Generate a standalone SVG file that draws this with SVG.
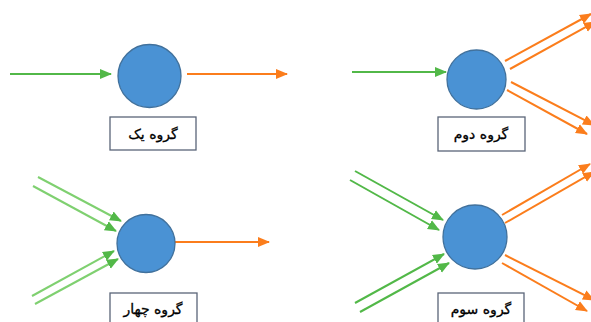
<svg xmlns="http://www.w3.org/2000/svg" width="591" height="322" viewBox="0 0 591 322">
  <style>
    .node { fill: #4a92d4; stroke: #41719c; stroke-width: 1.3; }
    .label { fill: #ffffff; stroke: #5a6578; stroke-width: 1.3; }
    .label-text { font-family: "DejaVu Sans", "Noto Sans", sans-serif; font-size: 14px; font-weight: normal; fill: #000000; stroke: #000000; stroke-width: 0.3; text-anchor: middle; }
    .in { stroke: #52b848; stroke-width: 2; fill: none; marker-end: url(#arrow-green); }
    .in-light { stroke: #7fd070; stroke-width: 2; fill: none; marker-end: url(#arrow-green); }
    .out { stroke: #fb7d1c; stroke-width: 2; fill: none; marker-end: url(#arrow-orange); }
  </style>
  <defs>
    <marker id="arrow-green" markerUnits="userSpaceOnUse" markerWidth="13" markerHeight="11" refX="11" refY="5.5" orient="auto">
      <path d="M0,0.5 L12,5.5 L0,10.5 z" fill="#52b848"/>
    </marker>
    <marker id="arrow-orange" markerUnits="userSpaceOnUse" markerWidth="13" markerHeight="11" refX="11" refY="5.5" orient="auto">
      <path d="M0,0.5 L12,5.5 L0,10.5 z" fill="#fb7d1c"/>
    </marker>
  </defs>

  <!-- connectors -->
  <g id="connectors">
    <!-- group one -->
    <line class="in" x1="10" y1="74" x2="111" y2="74"/>
    <line class="out" x1="187" y1="74" x2="287" y2="74"/>
    <!-- group two -->
    <line class="in" x1="352" y1="72" x2="446" y2="72"/>
    <line class="out" x1="505" y1="61" x2="591" y2="14"/>
    <line class="out" x1="510" y1="69" x2="595" y2="22"/>
    <line class="out" x1="511" y1="82" x2="594" y2="125"/>
    <line class="out" x1="507" y1="90" x2="587" y2="134"/>
    <!-- group four -->
    <line class="in-light" x1="38" y1="177" x2="121" y2="221"/>
    <line class="in-light" x1="33" y1="186" x2="116" y2="231"/>
    <line class="in-light" x1="32" y1="296" x2="114" y2="251"/>
    <line class="in-light" x1="35" y1="304" x2="118" y2="259"/>
    <line class="out" x1="175" y1="242" x2="269" y2="242"/>
    <!-- group three -->
    <line class="in" x1="355" y1="171" x2="443" y2="220"/>
    <line class="in" x1="350" y1="180" x2="439" y2="230"/>
    <line class="in" x1="355" y1="303" x2="444" y2="254"/>
    <line class="in" x1="360" y1="312" x2="449" y2="263"/>
    <line class="out" x1="502" y1="215" x2="590" y2="164"/>
    <line class="out" x1="505" y1="223" x2="594" y2="172"/>
    <line class="out" x1="505" y1="255" x2="594" y2="300"/>
    <line class="out" x1="502" y1="263" x2="587" y2="311"/>
  </g>

  <!-- group one -->
  <g id="group-one">
    <circle class="node" cx="149.5" cy="76" r="31.5"/>
    <rect class="label" x="110" y="117" width="86" height="33"/>
    <text class="label-text" x="153" y="139">گروه یک</text>
  </g>

  <!-- group two -->
  <g id="group-two">
    <circle class="node" cx="476.5" cy="79.5" r="29.5"/>
    <rect class="label" x="438" y="117" width="87" height="34"/>
    <text class="label-text" x="481" y="139">گروه دوم</text>
  </g>

  <!-- group four -->
  <g id="group-four">
    <circle class="node" cx="146" cy="243.5" r="29"/>
    <rect class="label" x="110" y="293" width="87" height="40"/>
    <text class="label-text" x="153" y="314">گروه چهار</text>
  </g>

  <!-- group three -->
  <g id="group-three">
    <circle class="node" cx="475" cy="237" r="32"/>
    <rect class="label" x="438" y="293" width="86" height="40"/>
    <text class="label-text" x="481" y="314">گروه سوم</text>
  </g>
</svg>
